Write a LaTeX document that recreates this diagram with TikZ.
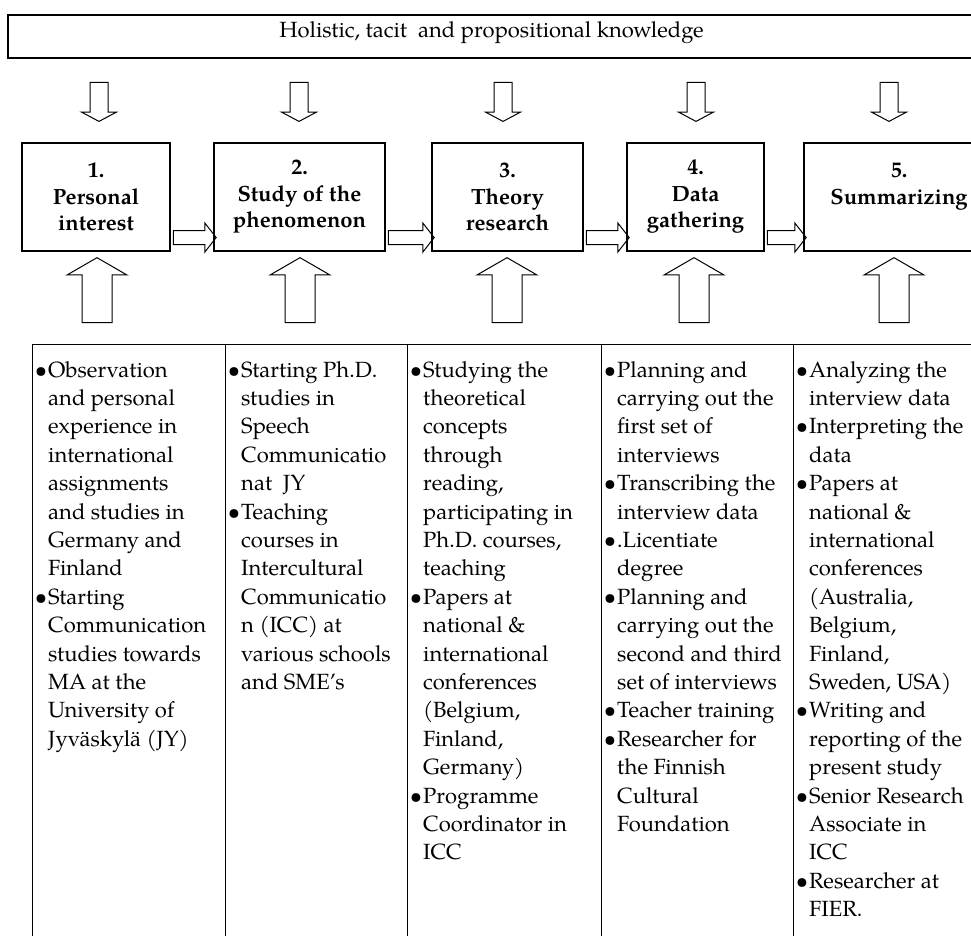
\documentclass[tikz,border=0pt]{standalone}
\usepackage{fontspec}
\setmainfont{TeX Gyre Pagella}
\usetikzlibrary{shapes.arrows,positioning,calc}

\newcommand{\bul}{\llap{\textbullet\hspace{1pt}}}

\begin{document}
\begin{tikzpicture}[x=1pt, y=-1pt,
    stage/.style={rectangle, draw, line width=1.1pt, minimum height=108pt, align=center, font=\fontsize{22}{26.5}\selectfont\bfseries},
    col/.style={rectangle, draw, line width=1pt, anchor=north west, minimum height=640pt},
    item/.style={align=left, inner sep=0pt, font=\fontsize{22}{28.4}\selectfont},
    downarrow/.style={single arrow, draw, line width=1pt, shape border rotate=270, inner sep=8.5pt, text height=0pt, text depth=0pt, minimum height=39pt, single arrow head extend=8.5pt, single arrow tip angle=124},
    uparrow/.style={single arrow, draw, line width=1pt, shape border rotate=90, inner sep=14.5pt, text height=0pt, text depth=0pt, minimum height=65pt, single arrow head extend=15pt, single arrow tip angle=120},
    rightarrow/.style={single arrow, draw, line width=1pt, inner sep=6.5pt, text height=0pt, text depth=0pt, single arrow head extend=7.5pt, single arrow tip angle=104},
]
\clip (0,0) rectangle (971,935);

% Knowledge frame on top
\node[draw, line width=1.4pt, minimum width=967pt, minimum height=43pt, text depth=13pt, font=\fontsize{22}{26}\selectfont] (know) at (491.5,36.5) {Holistic, tacit\ \ and propositional knowledge};

% Stages
\node[stage, minimum width=148pt] (s1) at (96,197) {1.\\Personal\\interest};
\node[stage, minimum width=171pt] (s2) at (299.5,197) {2.\\Study of the\\phenomenon};
\node[stage, minimum width=151pt] (s3) at (507.5,197) {3.\\Theory\\research};
\node[stage, minimum width=137pt] (s4) at (695.5,197) {4.\\Data\\gathering};
\node[stage, minimum width=190pt] (s5) at (899,197) {5.\\Summarizing\\~};

% Arrows from the knowledge frame
\foreach \x [count=\i] in {99,299,503,696,889}
  \node[downarrow] (d\i) at (\x,99.5) {};

% Arrows between the stages
\foreach \a/\b in {s1/s2,s2/s3,s3/s4,s4/s5}
  \path let \p1=(\a.south east), \p2=(\b.south west) in
    node[rightarrow, minimum height={\x2-\x1}] at ($(\p1)!.5!(\p2)+(0,-14)$) {};

% Arrows up from the columns
\foreach \x [count=\i] in {97,300,507,694,894}
  \node[uparrow] (u\i) at (\x,294.5) {};

% Columns
\node[col, minimum width=193pt] (c1) at (32,344) {};
\node[col, minimum width=182pt] (c2) at (225,344) {};
\node[col, minimum width=194pt] (c3) at (407,344) {};
\node[col, minimum width=192pt] (c4) at (601,344) {};
\node[col, minimum width=200pt] (c5) at (793,344) {};

\node[item, below right=17pt and 16pt of c1.north west] (t1) {\bul Observation\\and personal\\experience in\\international\\assignments\\and studies in\\Germany and\\Finland\\\bul Starting\\Communication\\studies towards\\MA at the\\University of\\Jyväskylä (JY)};
\node[item, below right=17pt and 16pt of c2.north west] (t2) {\bul Starting Ph.D.\\studies in\\Speech\\Communicatio\\nat\ \ JY\\\bul Teaching\\courses in\\Intercultural\\Communicatio\\n (ICC) at\\various schools\\and SME’s};
\node[item, below right=17pt and 16pt of c3.north west] (t3) {\bul Studying the\\theoretical\\concepts\\through\\reading,\\participating in\\Ph.D. courses,\\teaching\\\bul Papers at\\national \&\\international\\conferences\\(Belgium,\\Finland,\\Germany)\\\bul Programme\\Coordinator in\\ICC};
\node[item, below right=17pt and 16pt of c4.north west] (t4) {\bul Planning and\\carrying out the\\first set of\\interviews\\\bul Transcribing the\\interview data\\\bul .Licentiate\\degree\\\bul Planning and\\carrying out the\\second and third\\set of interviews\\\bul Teacher training\\\bul Researcher for\\the Finnish\\Cultural\\Foundation};
\node[item, below right=17pt and 16pt of c5.north west] (t5) {\bul Analyzing the\\interview data\\\bul Interpreting the\\data\\\bul Papers at\\national \&\\international\\conferences\\(Australia,\\Belgium,\\Finland,\\Sweden, USA)\\\bul Writing and\\reporting of the\\present study\\\bul Senior Research\\Associate in\\ICC\\\bul Researcher at\\FIER.};
\end{tikzpicture}
\end{document}
